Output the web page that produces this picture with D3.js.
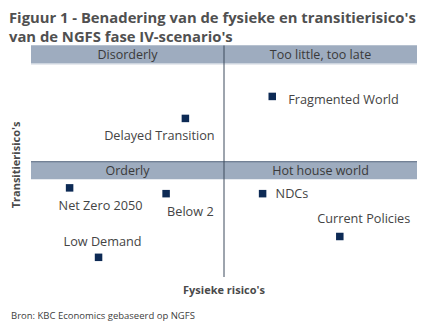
<!DOCTYPE html>
<html>
<head>
<meta charset="utf-8">
<script src="https://cdn.jsdelivr.net/npm/d3@7"></script>
<style>
  html, body { margin: 0; padding: 0; background: #fff; }
  svg { display: block; }
  text { font-family: "Open Sans", "Noto Sans", sans-serif; }
</style>
</head>
<body>
<svg id="chart" width="432" height="334"></svg>
<script>
// Scenario positions on a 0–10 scale (physical risk, transition risk)
const scenarios = ["Delayed Transition", "Fragmented World", "NDCs", "Net Zero 2050", "Below 2", "Current Policies", "Low Demand"];
const physicalRisk = [4.0, 6.25, 6.0, 1.0, 3.5, 8.0, 1.75];
const transitionRisk = [6.85, 7.8, 3.6, 3.85, 3.6, 1.75, 0.85];

// Quadrant names: top row, then bottom row
const quadrantTop = ["Disorderly", "Too little, too late"];
const quadrantBottom = ["Orderly", "Hot house world"];

const titleLines = ["Figuur 1 - Benadering van de fysieke en transitierisico's", "van de NGFS fase IV-scenario's"];
const xTitle = "Fysieke risico's";
const yTitle = "Transitierisico's";
const source = "Bron: KBC Economics gebaseerd op NGFS";

// Label placement relative to each marker: [dx, dy, anchor]
const labelPlacement = {
  "Delayed Transition": [-26, 22, "middle"],
  "Fragmented World": [16, 7.5, "start"],
  "NDCs": [13, 4, "start"],
  "Net Zero 2050": [31, 22, "middle"],
  "Below 2": [1, 22, "start"],
  "Current Policies": [24, -13, "middle"],
  "Low Demand": [4, -11, "middle"]
};

const svg = d3.select("#chart");
const plotLeft = 31, plotRight = 417, plotTop = 45.5, plotBottom = 277;

const x = d3.scaleLinear().domain([0, 10]).range([plotLeft, plotRight]);
const y = d3.scaleLinear().domain([0, 10]).range([plotBottom, plotTop]);

const bandColor = "#9eacbf";
const ink = "#444444";

// Title
svg.append("g").selectAll("text").data(titleLines).join("text")
  .attr("x", 9).attr("y", (d, i) => 22.5 + i * 19)
  .attr("font-size", 14.8).attr("font-weight", 700)
  .attr("fill", "#505050")
  .text(d => d);

// Quadrant header bands
const midX = x(5), midY = y(5);
const bandH = 18;
function band(yTop, names, lineColor) {
  svg.append("rect").attr("x", plotLeft).attr("y", yTop).attr("width", plotRight - plotLeft).attr("height", bandH)
    .attr("fill", bandColor);
  svg.append("line").attr("x1", plotLeft).attr("x2", plotRight).attr("y1", yTop + 0.5).attr("y2", yTop + 0.5)
    .attr("stroke", lineColor).attr("stroke-width", 1);
  svg.append("g").selectAll("text").data(names).join("text")
    .attr("x", (d, i) => i === 0 ? (plotLeft + midX) / 2 : (midX + plotRight) / 2)
    .attr("y", yTop + 13.5)
    .attr("text-anchor", "middle").attr("font-size", 12.5).attr("fill", "#3a3a3a")
    .text(d => d);
}
band(plotTop, quadrantTop, "#9eacbf");
svg.append("line").attr("x1", plotLeft).attr("x2", plotRight).attr("y1", plotTop + bandH + 0.5).attr("y2", plotTop + bandH + 0.5)
  .attr("stroke", "#cdd4de");
band(midY, quadrantBottom, "#5d6c82");

// Vertical divider
svg.append("line").attr("x1", midX).attr("x2", midX).attr("y1", plotTop).attr("y2", plotBottom)
  .attr("stroke", "#3c4a5c").attr("stroke-width", 1);

// Markers and labels
const pts = scenarios.map((s, i) => ({ name: s, px: physicalRisk[i], ty: transitionRisk[i] }));
const sq = 7.5;
svg.append("g").selectAll("rect").data(pts).join("rect")
  .attr("x", d => x(d.px) - sq / 2).attr("y", d => y(d.ty) - sq / 2)
  .attr("width", sq).attr("height", sq).attr("fill", "#0d2a55");

svg.append("g").selectAll("text").data(pts).join("text")
  .attr("x", d => x(d.px) + labelPlacement[d.name][0])
  .attr("y", d => y(d.ty) + labelPlacement[d.name][1])
  .attr("text-anchor", d => labelPlacement[d.name][2])
  .attr("font-size", 12.7).attr("fill", ink)
  .text(d => d.name);

// Axis titles
svg.append("text").attr("x", midX).attr("y", 293.5).attr("text-anchor", "middle")
  .attr("font-size", 11).attr("font-weight", 700).attr("fill", "#4a4a4a").text(xTitle);
svg.append("text").attr("transform", `translate(19.5,165) rotate(-90)`).attr("text-anchor", "middle")
  .attr("font-size", 11).attr("font-weight", 700).attr("fill", "#4a4a4a").text(yTitle);

// Source note
svg.append("text").attr("x", 11).attr("y", 318.5).attr("font-size", 9.5).attr("fill", "#404040").text(source);
</script>
</body>
</html>
